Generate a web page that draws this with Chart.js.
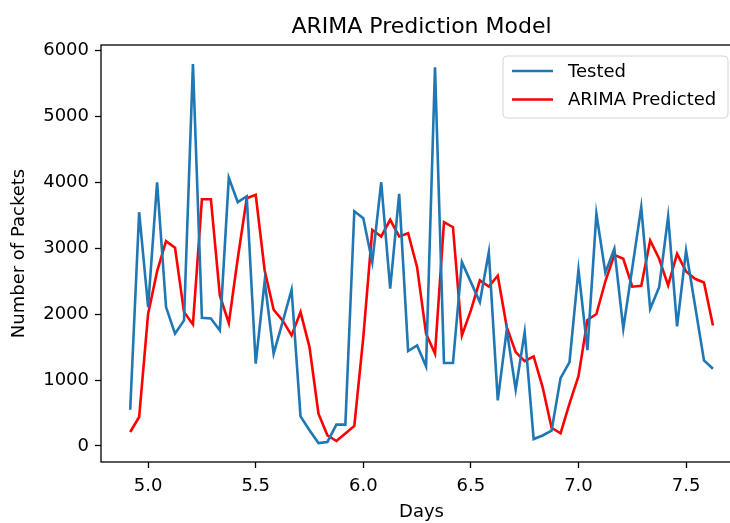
<!DOCTYPE html>
<html>
<head>
<meta charset="utf-8">
<title>ARIMA Prediction Model</title>
<script src="https://cdn.jsdelivr.net/npm/chart.js@4.4.0/dist/chart.umd.min.js"></script>
<style>
  html, body { margin: 0; padding: 0; background: #ffffff; overflow: hidden; width: 730px; height: 523px; }
  #wrap { width: 750px; height: 523px; }
</style>
</head>
<body>
<div id="wrap"><canvas id="chart" width="750" height="523"></canvas></div>
<script>
// Time axis: hourly samples, expressed in days
const days = [
  4.9167, 4.9583, 5.0, 5.0417, 5.0833, 5.125, 5.1667, 5.2083, 5.25, 5.2917,
  5.3333, 5.375, 5.4167, 5.4583, 5.5, 5.5417, 5.5833, 5.625, 5.6667, 5.7083,
  5.75, 5.7917, 5.8333, 5.875, 5.9167, 5.9583, 6.0, 6.0417, 6.0833, 6.125,
  6.1667, 6.2083, 6.25, 6.2917, 6.3333, 6.375, 6.4167, 6.4583, 6.5, 6.5417,
  6.5833, 6.625, 6.6667, 6.7083, 6.75, 6.7917, 6.8333, 6.875, 6.9167, 6.9583,
  7.0, 7.0417, 7.0833, 7.125, 7.1667, 7.2083, 7.25, 7.2917, 7.3333, 7.375,
  7.4167, 7.4583, 7.5, 7.5417, 7.5833, 7.625
];

// Observed packet counts
const tested = [
  550, 3548, 2108, 4003, 2108, 1704, 1906, 5798, 1947, 1936,
  1754, 4070, 3700, 3790, 1249, 2502, 1401, 1880, 2371, 450,
  238, 45, 61, 324, 324, 3563, 3455, 2790, 4003, 2387,
  3827, 1441, 1527, 1209, 5747, 1259, 1259, 2790, 2487, 2184,
  2942, 693, 1765, 855, 1729, 105, 160, 232, 1030, 1274,
  2675, 1455, 3524, 2630, 2993, 1780, 2700, 3624, 2083, 2411,
  3483, 1815, 2967, 2133, 1300, 1173
];

// ARIMA one-step predictions
const predicted = [
  212, 440, 2008, 2650, 3110, 3010, 2032, 1845, 3745, 3745,
  2285, 1865, 2850, 3760, 3812, 2664, 2068, 1906, 1679, 2032,
  1501, 491, 162, 76, 188, 305, 1650, 3281, 3180, 3433,
  3180, 3230, 2714, 1704, 1401, 3397, 3321, 1679, 2058, 2513,
  2420, 2585, 1805, 1425, 1287, 1360, 895, 276, 192, 643,
  1060, 1912, 2003, 2500, 2900, 2841, 2418, 2430, 3120, 2841,
  2437, 2917, 2650, 2538, 2482, 1830
];

const xTicks = [5.0, 5.5, 6.0, 6.5, 7.0, 7.5];
const yTicks = [0, 1000, 2000, 3000, 4000, 5000, 6000];

const FONT = "'DejaVu Sans', sans-serif";
const INK = '#000000';

const toPoints = (vals) => vals.map((v, i) => ({ x: days[i], y: v }));

// Frame (all four spines), title and boxed legend
const decorations = {
  id: 'decorations',
  afterDraw(chart) {
    const { ctx, chartArea: a } = chart;
    ctx.save();
    ctx.strokeStyle = INK;
    ctx.lineWidth = 1.3;
    ctx.strokeRect(a.left, a.top, a.right - a.left, a.bottom - a.top);

    ctx.fillStyle = INK;
    ctx.font = '22px ' + FONT;
    ctx.textAlign = 'center';
    ctx.textBaseline = 'alphabetic';
    ctx.fillText('ARIMA Prediction Model', (a.left + a.right) / 2, 33);

    const boxW = 225, boxH = 62;
    const bx = a.right - 14 - boxW, by = a.top + 11;
    ctx.beginPath();
    if (ctx.roundRect) ctx.roundRect(bx, by, boxW, boxH, 4); else ctx.rect(bx, by, boxW, boxH);
    ctx.fillStyle = 'rgba(255,255,255,0.8)';
    ctx.fill();
    ctx.strokeStyle = '#d6d6d6';
    ctx.lineWidth = 1;
    ctx.stroke();

    ctx.font = '18px ' + FONT;
    ctx.textAlign = 'left';
    ctx.textBaseline = 'middle';
    chart.data.datasets.forEach((ds, i) => {
      const y = by + 15 + i * 28.5;
      ctx.strokeStyle = ds.borderColor;
      ctx.lineWidth = ds.borderWidth;
      ctx.beginPath();
      ctx.moveTo(bx + 9, y);
      ctx.lineTo(bx + 50, y);
      ctx.stroke();
      ctx.fillStyle = INK;
      ctx.fillText(ds.label, bx + 65, y + 1);
    });
    ctx.restore();
  }
};

new Chart(document.getElementById('chart'), {
  type: 'line',
  data: {
    datasets: [
      { label: 'Tested', data: toPoints(tested), borderColor: '#1f77b4', borderWidth: 2.6,
        pointRadius: 0, tension: 0, fill: false },
      { label: 'ARIMA Predicted', data: toPoints(predicted), borderColor: '#ff0000', borderWidth: 2.6,
        pointRadius: 0, tension: 0, fill: false }
    ]
  },
  options: {
    responsive: false,
    animation: false,
    devicePixelRatio: 1,
    layout: { padding: { top: 45, right: 8, left: 0, bottom: 0 } },
    plugins: { legend: { display: false }, title: { display: false }, tooltip: { enabled: false } },
    scales: {
      x: {
        type: 'linear',
        min: 4.781,
        max: 7.760,
        afterFit(scale) { scale.height = 61; },
        afterBuildTicks(scale) { scale.ticks = xTicks.map(v => ({ value: v })); },
        grid: { drawOnChartArea: false, drawTicks: true, tickLength: 6, tickColor: INK, tickWidth: 1.3 },
        border: { display: false },
        ticks: { color: INK, font: { family: FONT, size: 18 }, padding: 8, maxRotation: 0,
                 callback: (v) => Number(v).toFixed(1) },
        title: { display: true, text: 'Days', color: INK, font: { family: FONT, size: 18 },
                 padding: { top: 0, bottom: 0 } }
      },
      y: {
        type: 'linear',
        min: -243,
        max: 6086,
        afterFit(scale) { scale.width = 101; },
        afterBuildTicks(scale) { scale.ticks = yTicks.map(v => ({ value: v })); },
        grid: { drawOnChartArea: false, drawTicks: true, tickLength: 6, tickColor: INK, tickWidth: 1.3 },
        border: { display: false },
        ticks: { color: INK, font: { family: FONT, size: 18 }, padding: 6,
                 callback: (v) => String(v) },
        title: { display: true, text: 'Number of Packets', color: INK, font: { family: FONT, size: 18 },
                 padding: { top: 9, bottom: 0 } }
      }
    }
  },
  plugins: [decorations]
});
</script>
</body>
</html>
